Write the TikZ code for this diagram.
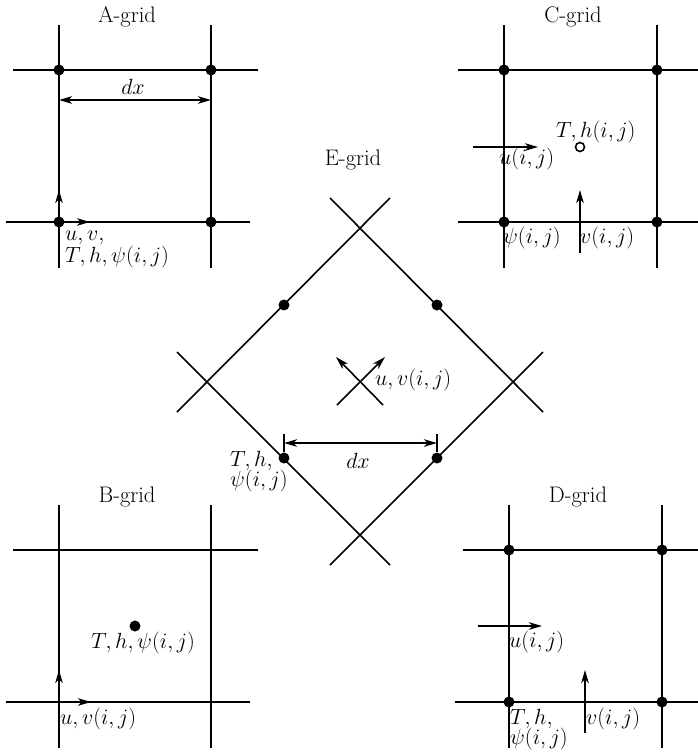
\RequirePackage{fix-cm}
\documentclass[tikz,border=0pt]{standalone}
\usetikzlibrary{arrows.meta}
\begin{document}
\begin{tikzpicture}[x=1pt,y=-1pt,
 gl/.style={line width=1.8pt},
 gw/.style={line width=2.2pt},
 el/.style={line width=1.6pt},
 dot/.style={circle,fill=black,inner sep=0pt,minimum size=11pt},
 odot/.style={circle,draw=black,line width=1.6pt,fill=white,inner sep=0pt,minimum size=9pt},
 vec/.style={line width=1.6pt,-{Stealth[length=13pt,width=7.5pt,inset=3.5pt]}},
 dvec/.style={line width=1.6pt,{Stealth[length=13pt,width=7.5pt,inset=3.5pt]}-{Stealth[length=13pt,width=7.5pt,inset=3.5pt]}},
 lab/.style={inner sep=0pt,anchor=base west,font=\fontsize{22}{24}\selectfont},
 ttl/.style={inner sep=0pt,font=\fontsize{22.5}{24}\selectfont}]
\useasboundingbox (0,0) rectangle (698,753);

% ---------- A-grid ----------
\node[ttl] (tA) at (127,17) {A-grid};
\draw[gl] (59,25) -- (59,268);
\draw[gl] (211,25) -- (211,268);
\draw[gl] (13,70) -- (258,70);
\draw[gl] (6,222) -- (250,222);
\node[dot] (A11) at (59,70) {};
\node[dot] (A21) at (211,70) {};
\node[dot] (A12) at (59,222) {};
\node[dot] (A22) at (211,222) {};
\coordinate (Adl) at (59,100);
\coordinate (Adr) at (211,100);
\draw[dvec] (Adl) -- (Adr);
\node[lab,anchor=base] (Adx) at (133,94) {$dx$};
\coordinate (Aup) at (59,190);
\coordinate (Art) at (90,222);
\draw[vec] (A12.center) -- (Aup);
\draw[vec] (A12.center) -- (Art);
\node[lab] (Al1) at (65,240) {$u,v,$};
\node[lab] (Al2) at (65,262) {$T,h,\psi(i,j)$};

% ---------- C-grid ----------
\node[ttl] (tC) at (573,17) {C-grid};
\draw[gw] (504,25) -- (504,268);
\draw[gw] (657,25) -- (657,268);
\draw[gl] (458,70) -- (698,70);
\draw[gl] (458,222) -- (698,222);
\node[dot] (C11) at (504,70) {};
\node[dot] (C21) at (657,70) {};
\node[dot] (C12) at (504,222) {};
\node[dot] (C22) at (657,222) {};
\node[odot] (Cc) at (580,147) {};
\node[lab] (Cth) at (556,137) {$T,h(i,j)$};
\coordinate (Cu0) at (473,147);
\coordinate (Cu1) at (538,147);
\draw[vec] (Cu0) -- (Cu1);
\node[lab] (Cul) at (499,164) {$u(i,j)$};
\coordinate (Cv0) at (580,253);
\coordinate (Cv1) at (580,190);
\draw[vec] (Cv0) -- (Cv1);
\node[lab] (Cvl) at (580,243) {$v(i,j)$};
\node[lab] (Cpl) at (503,243) {$\psi(i,j)$};

% ---------- B-grid ----------
\node[ttl] (tB) at (127,497) {B-grid};
\draw[gl] (59,505) -- (59,748);
\draw[gl] (211,505) -- (211,748);
\draw[gl] (13,550) -- (258,550);
\draw[gl] (6,702) -- (250,702);
\node[dot] (Bc) at (135,626) {};
\node[lab] (Bl) at (91,648) {$T,h,\psi(i,j)$};
\coordinate (B0) at (59,702);
\coordinate (Bup) at (59,670);
\coordinate (Brt) at (91,702);
\draw[vec] (B0) -- (Bup);
\draw[vec] (B0) -- (Brt);
\node[lab] (Bul) at (60,724) {$u,v(i,j)$};

% ---------- D-grid ----------
\node[ttl] (tD) at (578,497) {D-grid};
\draw[gw] (509,505) -- (509,748);
\draw[gw] (662,505) -- (662,748);
\draw[gl] (463,550) -- (698,550);
\draw[gl] (455,702) -- (698,702);
\node[dot] (D11) at (509,550) {};
\node[dot] (D21) at (662,550) {};
\node[dot] (D12) at (509,702) {};
\node[dot] (D22) at (662,702) {};
\coordinate (Du0) at (478,626);
\coordinate (Du1) at (542,626);
\draw[vec] (Du0) -- (Du1);
\node[lab] (Dul) at (509,647) {$u(i,j)$};
\coordinate (Dv0) at (585,733);
\coordinate (Dv1) at (585,670);
\draw[vec] (Dv0) -- (Dv1);
\node[lab] (Dvl) at (586,724) {$v(i,j)$};
\node[lab] (Dt1) at (510,724) {$T,h,$};
\node[lab] (Dt2) at (510,744) {$\psi(i,j)$};

% ---------- E-grid ----------
\node[ttl] (tE) at (353,160) {E-grid};
\draw[el] (330,198) -- (543,412);
\draw[el] (390,198) -- (177,412);
\draw[el] (177,352) -- (390,565);
\draw[el] (543,352) -- (330,565);
\node[dot] (E1) at (284,305) {};
\node[dot] (E2) at (437,305) {};
\node[dot] (E3) at (284,458) {};
\node[dot] (E4) at (437,458) {};
\coordinate (Edl) at (284,443);
\coordinate (Edr) at (437,443);
\draw[dvec] (Edl) -- (Edr);
\draw[el] (284,434) -- (284,452);
\draw[el] (437,434) -- (437,452);
\node[lab,anchor=base] (Edx) at (358,468) {$dx$};
\coordinate (Ex1) at (337,405);
\coordinate (Ex2) at (385,357);
\coordinate (Ex3) at (383,405);
\coordinate (Ex4) at (336,357);
\draw[vec] (Ex1) -- (Ex2);
\draw[vec] (Ex3) -- (Ex4);
\node[lab] (Euv) at (375,385) {$u,v(i,j)$};
\node[lab] (Et1) at (230,466) {$T,h,$};
\node[lab] (Et2) at (230,486) {$\psi(i,j)$};
\end{tikzpicture}
\end{document}
